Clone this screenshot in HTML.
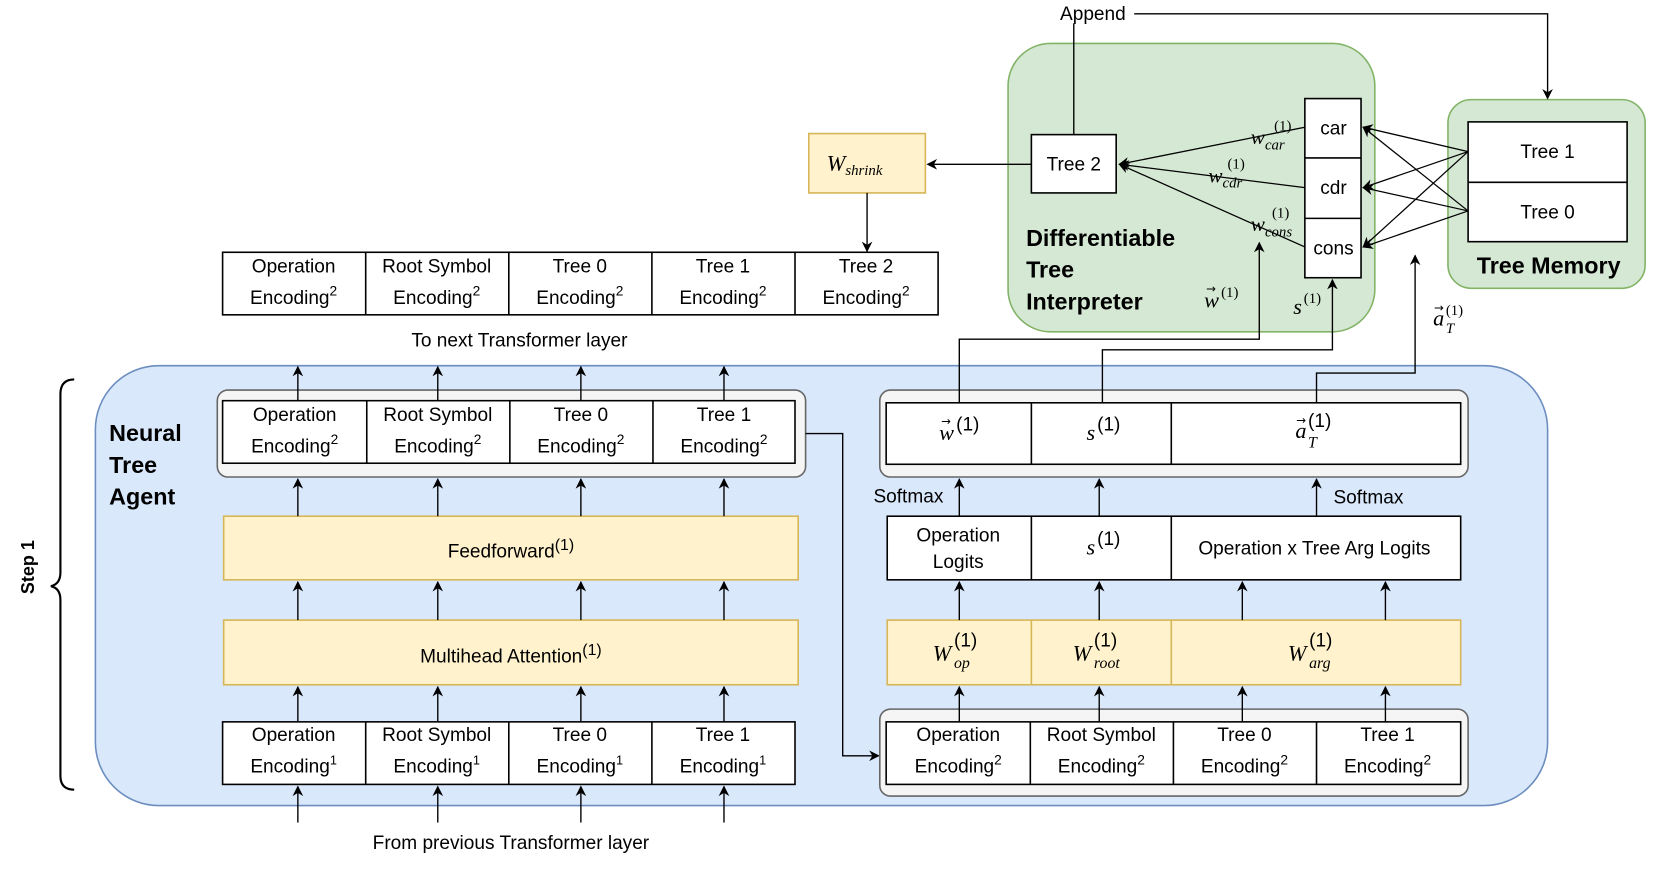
<!DOCTYPE html>
<html><head><meta charset="utf-8"><style>
html,body{margin:0;padding:0;background:#fff;width:1661px;height:871px;overflow:hidden}
svg{display:block}
text{font-family:"Liberation Sans",sans-serif;font-size:18px;fill:#000}
.m{font-family:"Liberation Serif",serif;font-style:italic;font-size:21px}
.v{font-family:"DejaVu Sans",sans-serif;font-size:11px}
.b{font-weight:bold;font-size:22px}
</style></head><body>
<svg width="1661" height="871" viewBox="0 0 1661 871" xmlns="http://www.w3.org/2000/svg">
<defs><marker id="a" markerWidth="10" markerHeight="10" refX="9" refY="5" orient="auto" markerUnits="userSpaceOnUse"><path d="M0,0 L10,5 L0,10 L3,5 z" fill="#000"/></marker></defs>
<g transform="scale(1.06)">
<rect x="951" y="41" width="346" height="272" rx="40" fill="#d5e8d4" stroke="#82b366" stroke-width="1.5"/>
<rect x="1366" y="94" width="186" height="178" rx="22" fill="#d5e8d4" stroke="#82b366" stroke-width="1.5"/>
<rect x="90" y="345" width="1370" height="415" rx="60" fill="#dae8fc" stroke="#6c8ebf" stroke-width="1.5"/>
<text x="1000" y="19">Append</text>
<path d="M1070,13 H1460 V93" fill="none" stroke="#000" stroke-width="1.3" marker-end="url(#a)"/>
<path d="M1013,127 V22" stroke="#000" stroke-width="1.3"/>
<rect x="973" y="127" width="80" height="55" fill="#fff" stroke="#000" stroke-width="1.5"/>
<text x="1013" y="161" text-anchor="middle">Tree 2</text>
<rect x="1231" y="93" width="53" height="169" fill="#fff" stroke="#000" stroke-width="1.5"/>
<path d="M1231,149 H1284 M1231,206 H1284" stroke="#000" stroke-width="1.5"/>
<text x="1258" y="127" text-anchor="middle">car</text>
<text x="1258" y="183" text-anchor="middle">cdr</text>
<text x="1258" y="240" text-anchor="middle">cons</text>
<rect x="1385" y="115" width="150" height="113" fill="#fff" stroke="#000" stroke-width="1.5"/>
<path d="M1385,172 H1535" stroke="#000" stroke-width="1.5"/>
<text x="1460" y="149" text-anchor="middle">Tree 1</text>
<text x="1460" y="206" text-anchor="middle">Tree 0</text>
<text class="b" x="1461" y="258" text-anchor="middle">Tree Memory</text>
<g stroke="#000" stroke-width="1.2" fill="none">
<path d="M1385,143 L1286,120" marker-end="url(#a)"/>
<path d="M1385,143 L1286,177" marker-end="url(#a)"/>
<path d="M1385,143 L1286,233" marker-end="url(#a)"/>
<path d="M1385,199 L1286,120" marker-end="url(#a)"/>
<path d="M1385,199 L1286,177" marker-end="url(#a)"/>
<path d="M1385,199 L1286,233" marker-end="url(#a)"/>
<path d="M1231,120 L1056,155" marker-end="url(#a)"/>
<path d="M1231,177 L1056,155" marker-end="url(#a)"/>
<path d="M1231,233 L1056,155" marker-end="url(#a)"/>
</g>
<text class="m" x="1180" y="136" style="font-size:20px">w<tspan font-size="14" dy="5">car</tspan></text><text x="1202" y="123" style="font-family:'Liberation Serif',serif;font-size:14px">(1)</text>
<text class="m" x="1140" y="172" style="font-size:20px">w<tspan font-size="14" dy="5">cdr</tspan></text><text x="1158" y="159" style="font-family:'Liberation Serif',serif;font-size:14px">(1)</text>
<text class="m" x="1180" y="218" style="font-size:20px">w<tspan font-size="14" dy="5">cons</tspan></text><text x="1200" y="205" style="font-family:'Liberation Serif',serif;font-size:14px">(1)</text>
<text class="b" x="968" y="232">Differentiable</text>
<text class="b" x="968" y="262">Tree</text>
<text class="b" x="968" y="292">Interpreter</text>
<text class="m" x="1136" y="290">w</text><text class="v" x="1138" y="276">→</text><text x="1152" y="280" style="font-family:'Liberation Serif',serif;font-size:14px">(1)</text>
<text class="m" x="1220" y="296">s</text><text x="1230" y="286" style="font-family:'Liberation Serif',serif;font-size:14px">(1)</text>
<text class="m" x="1352" y="307">a</text><text class="v" x="1353" y="294">→</text><text class="m" x="1364" y="314" style="font-size:14px">T</text><text x="1364" y="297" style="font-family:'Liberation Serif',serif;font-size:14px">(1)</text>
<rect x="763" y="126" width="110" height="56" fill="#fff2cc" stroke="#d6b656" stroke-width="1.5"/>
<text class="m" x="780" y="161">W<tspan font-size="14" dy="4">shrink</tspan></text>
<path d="M973,155 H875" stroke="#000" stroke-width="1.3" marker-end="url(#a)"/>
<path d="M818,182 V237" stroke="#000" stroke-width="1.3" marker-end="url(#a)"/>
<rect x="210" y="238" width="675" height="59" fill="#fff" stroke="#000" stroke-width="1.5"/>
<path d="M345,238V297M480,238V297M615,238V297M750,238V297" stroke="#000" stroke-width="1.5"/>
<g text-anchor="middle">
<text x="277" y="257">Operation</text><text x="277" y="287">Encoding<tspan font-size="13" dy="-8">2</tspan></text>
<text x="412" y="257">Root Symbol</text><text x="412" y="287">Encoding<tspan font-size="13" dy="-8">2</tspan></text>
<text x="547" y="257">Tree 0</text><text x="547" y="287">Encoding<tspan font-size="13" dy="-8">2</tspan></text>
<text x="682" y="257">Tree 1</text><text x="682" y="287">Encoding<tspan font-size="13" dy="-8">2</tspan></text>
<text x="817" y="257">Tree 2</text><text x="817" y="287">Encoding<tspan font-size="13" dy="-8">2</tspan></text>
<text x="490" y="327">To next Transformer layer</text>
</g>
<path d="M70,358 Q57,358 57,372 V540 Q57,551 48,553 Q57,555 57,566 V732 Q57,745 70,745" fill="none" stroke="#000" stroke-width="2"/>
<text x="32" y="535" transform="rotate(-90 32 535)" text-anchor="middle" style="font-weight:bold;font-size:17px">Step 1</text>
<text class="b" x="103" y="416">Neural</text>
<text class="b" x="103" y="446">Tree</text>
<text class="b" x="103" y="476">Agent</text>
<rect x="205" y="368" width="555" height="82" rx="10" fill="#f5f5f5" stroke="#666" stroke-width="1.5"/>
<rect x="210" y="378" width="540" height="59" fill="#fff" stroke="#000" stroke-width="1.5"/>
<path d="M346,378V437M481,378V437M616,378V437" stroke="#000" stroke-width="1.5"/>
<rect x="211" y="487" width="542" height="60" fill="#fff2cc" stroke="#d6b656" stroke-width="1.5"/>
<rect x="211" y="585" width="542" height="61" fill="#fff2cc" stroke="#d6b656" stroke-width="1.5"/>
<rect x="210" y="681" width="540" height="59" fill="#fff" stroke="#000" stroke-width="1.5"/>
<path d="M345,681V740M480,681V740M615,681V740" stroke="#000" stroke-width="1.5"/>
<g text-anchor="middle">
<text x="278" y="397">Operation</text><text x="278" y="427">Encoding<tspan font-size="13" dy="-8">2</tspan></text>
<text x="413" y="397">Root Symbol</text><text x="413" y="427">Encoding<tspan font-size="13" dy="-8">2</tspan></text>
<text x="548" y="397">Tree 0</text><text x="548" y="427">Encoding<tspan font-size="13" dy="-8">2</tspan></text>
<text x="683" y="397">Tree 1</text><text x="683" y="427">Encoding<tspan font-size="13" dy="-8">2</tspan></text>
<text x="482" y="526">Feedforward<tspan font-size="15" dy="-7">(1)</tspan></text>
<text x="482" y="625">Multihead Attention<tspan font-size="15" dy="-7">(1)</tspan></text>
<text x="277" y="699">Operation</text><text x="277" y="729">Encoding<tspan font-size="12" dy="-8">1</tspan></text>
<text x="412" y="699">Root Symbol</text><text x="412" y="729">Encoding<tspan font-size="12" dy="-8">1</tspan></text>
<text x="547" y="699">Tree 0</text><text x="547" y="729">Encoding<tspan font-size="12" dy="-8">1</tspan></text>
<text x="682" y="699">Tree 1</text><text x="682" y="729">Encoding<tspan font-size="12" dy="-8">1</tspan></text>
<text x="482" y="801">From previous Transformer layer</text>
</g>
<g stroke="#000" stroke-width="1.3" fill="none" marker-end="url(#a)">
<path d="M281,378V346"/><path d="M413,378V346"/><path d="M548,378V346"/><path d="M683,378V346"/>
<path d="M281,487V452"/><path d="M413,487V452"/><path d="M548,487V452"/><path d="M683,487V452"/>
<path d="M281,585V549"/><path d="M413,585V549"/><path d="M548,585V549"/><path d="M683,585V549"/>
<path d="M281,681V648"/><path d="M413,681V648"/><path d="M548,681V648"/><path d="M683,681V648"/>
<path d="M281,776V742"/><path d="M413,776V742"/><path d="M548,776V742"/><path d="M683,776V742"/>
<path d="M760,409H795V713H829"/>
</g>
<rect x="830" y="368" width="555" height="82" rx="10" fill="#f5f5f5" stroke="#666" stroke-width="1.5"/>
<rect x="836" y="380" width="542" height="58" fill="#fff" stroke="#000" stroke-width="1.5"/>
<path d="M973,380V438M1105,380V438" stroke="#000" stroke-width="1.5"/>
<rect x="837" y="487" width="541" height="60" fill="#fff" stroke="#000" stroke-width="1.5"/>
<path d="M973,487V547M1105,487V547" stroke="#000" stroke-width="1.5"/>
<rect x="837" y="585" width="541" height="61" fill="#fff2cc" stroke="#d6b656" stroke-width="1.5"/>
<path d="M973,585V646M1105,585V646" stroke="#d6b656" stroke-width="1.5"/>
<rect x="830" y="669" width="555" height="82" rx="10" fill="#f5f5f5" stroke="#666" stroke-width="1.5"/>
<rect x="836" y="681" width="542" height="59" fill="#fff" stroke="#000" stroke-width="1.5"/>
<path d="M972,681V740M1107,681V740M1242,681V740" stroke="#000" stroke-width="1.5"/>
<g text-anchor="middle">
<text x="904" y="699">Operation</text><text x="904" y="729">Encoding<tspan font-size="13" dy="-8">2</tspan></text>
<text x="1039" y="699">Root Symbol</text><text x="1039" y="729">Encoding<tspan font-size="13" dy="-8">2</tspan></text>
<text x="1174" y="699">Tree 0</text><text x="1174" y="729">Encoding<tspan font-size="13" dy="-8">2</tspan></text>
<text x="1309" y="699">Tree 1</text><text x="1309" y="729">Encoding<tspan font-size="13" dy="-8">2</tspan></text>
<text x="904" y="511">Operation</text><text x="904" y="536">Logits</text>
<text x="1240" y="523">Operation x Tree Arg Logits</text>
</g>
<g style="font-family:'Liberation Serif',serif;font-size:15px">
<text class="m" x="886" y="415">w</text><text class="v" x="888" y="401">→</text><text x="902" y="406">(1)</text>
<text class="m" x="1025" y="415">s</text><text x="1035" y="406">(1)</text>
<text class="m" x="1222" y="413">a</text><text class="v" x="1223" y="400">→</text><text class="m" x="1234" y="422" style="font-size:15px">T</text><text x="1234" y="403">(1)</text>
<text class="m" x="1025" y="523">s</text><text x="1035" y="514">(1)</text>
<text class="m" x="880" y="623">W</text><text class="m" x="900" y="630" style="font-size:15px">op</text><text x="900" y="610">(1)</text>
<text class="m" x="1012" y="623">W</text><text class="m" x="1032" y="630" style="font-size:15px">root</text><text x="1032" y="610">(1)</text>
<text class="m" x="1215" y="623">W</text><text class="m" x="1235" y="630" style="font-size:15px">arg</text><text x="1235" y="610">(1)</text>
</g>
<text x="824" y="474">Softmax</text>
<text x="1258" y="475">Softmax</text>
<g stroke="#000" stroke-width="1.3" fill="none" marker-end="url(#a)">
<path d="M905,681V648"/><path d="M1037,681V648"/><path d="M1172,681V648"/><path d="M1307,681V648"/>
<path d="M905,585V549"/><path d="M1037,585V549"/><path d="M1172,585V549"/><path d="M1307,585V549"/>
<path d="M905,487V452"/><path d="M1037,487V452"/><path d="M1242,487V452"/>
<path d="M905,380V320H1188V229"/>
<path d="M1040,380V330H1257V264"/>
<path d="M1242,380V352H1335V241"/>
</g>
</g>
</svg>
</body></html>
